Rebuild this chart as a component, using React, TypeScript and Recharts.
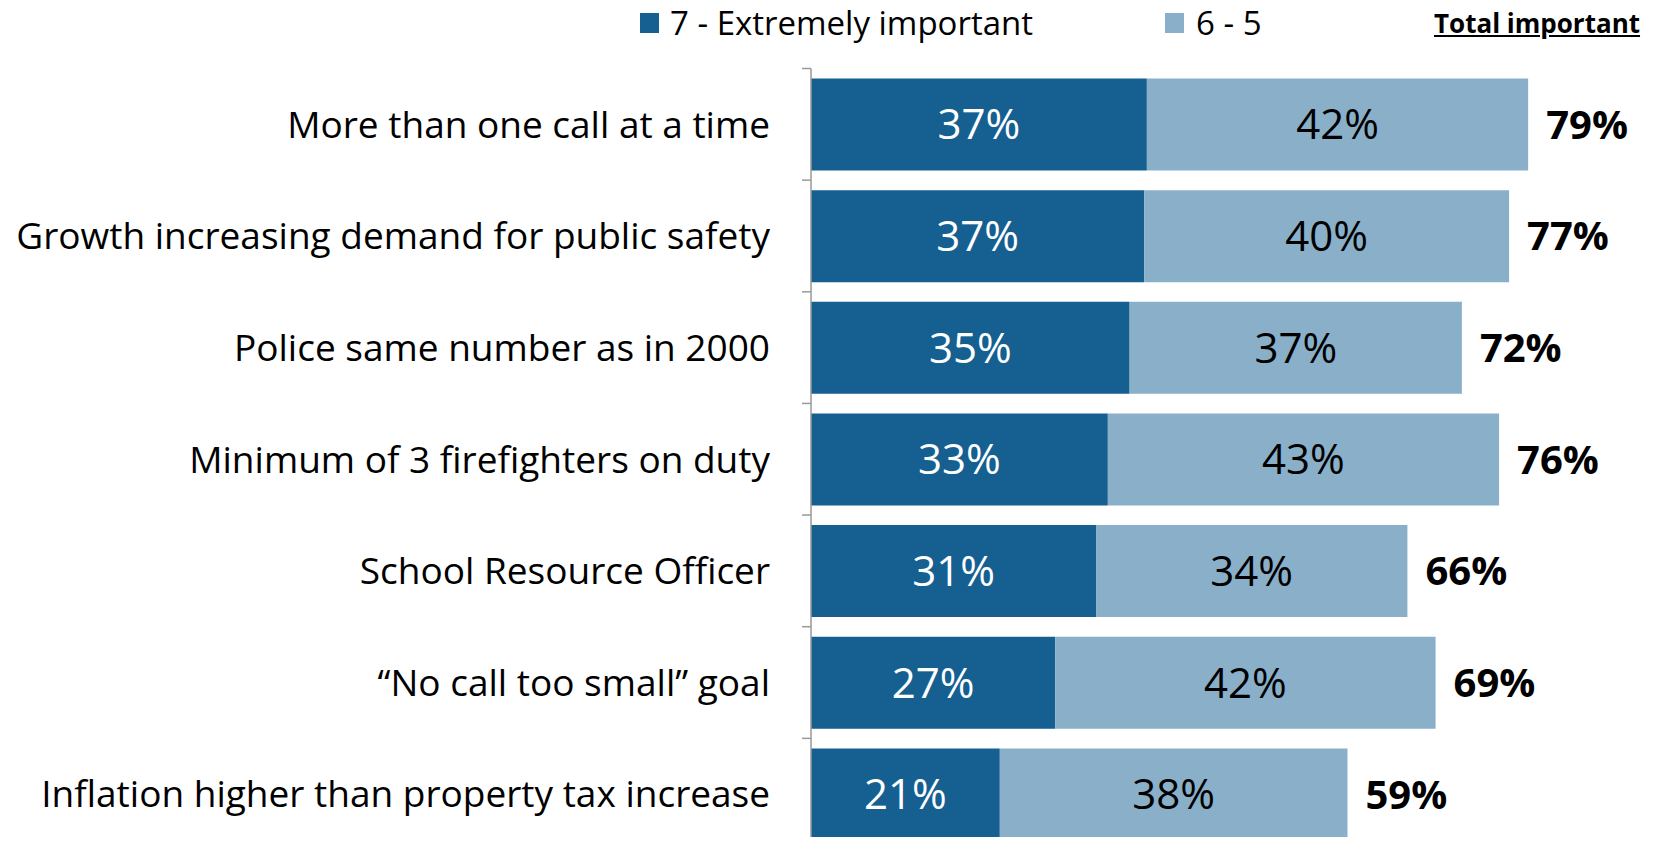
import { Bar, BarChart, LabelList, XAxis, YAxis } from 'recharts'

// categories, top to bottom
const categories = [
    'More than one call at a time',
    'Growth increasing demand for public safety',
    'Police same number as in 2000',
    'Minimum of 3 firefighters on duty',
    'School Resource Officer',
    '\u201cNo call too small\u201d goal',
    'Inflation higher than property tax increase'
]

// 7 - Extremely important
const extreme = [37, 36.7, 35.1, 32.7, 31.4, 26.9, 20.8]
// 6 - 5
const moderate = [42, 40.2, 36.6, 43.1, 34.3, 41.9, 38.3]
// total important (shown at bar ends)
const totals = [79, 77, 72, 76, 66, 69, 59]

const DARK = '#155F91'
const LIGHT = '#89AFC9'
const FONT = '"Open Sans", sans-serif'

const data = categories.map((name, i) => ({
    name,
    extreme: extreme[i],
    moderate: moderate[i],
    total: totals[i]
}))

const CHART_W = 1653
const CHART_H = 850
const TOP = 68.5
const AXIS_W = 803
const BAND = (CHART_H - TOP) / categories.length

const pct = (v: any) => `${Math.round(Number(v))}%`

const CategoryTick = (props: any) => {
    const { x, y, payload, index } = props
    const axisX = x + 41
    return (
        <g>
            <text x={x} y={y} dy="0.36em" textAnchor="end" fontSize={37} fontFamily={FONT} fill="#000">
                {payload.value}
            </text>
            <line x1={axisX - 9} x2={axisX} y1={y - BAND / 2} y2={y - BAND / 2} stroke="#999" strokeWidth={1.5} />
            {index === categories.length - 1 && (
                <line x1={axisX - 9} x2={axisX} y1={y + BAND / 2} y2={y + BAND / 2} stroke="#999" strokeWidth={1.5} />
            )}
        </g>
    )
}

const legendText = {
    position: 'absolute' as const,
    top: 6,
    fontSize: 33,
    lineHeight: '34px',
    fontFamily: FONT,
    whiteSpace: 'nowrap' as const
}

const Legend = () => (
    <>
        <div style={{ position: 'absolute', left: 640, top: 13, width: 19, height: 20, background: DARK }} />
        <div style={{ ...legendText, left: 670 }}>7 - Extremely important</div>
        <div style={{ position: 'absolute', left: 1165, top: 13, width: 19, height: 20, background: LIGHT }} />
        <div style={{ ...legendText, left: 1196 }}>6 - 5</div>
        <div
            style={{
                ...legendText,
                left: 1434,
                top: 8,
                fontSize: 26,
                lineHeight: '30px',
                fontWeight: 700,
                textDecoration: 'underline'
            }}
        >
            Total important
        </div>
    </>
)

export default function App() {
    return (
        <div style={{ position: 'relative', margin: -8, width: CHART_W, height: 845, overflow: 'hidden' }}>
            <Legend />
            <BarChart
                width={CHART_W}
                height={CHART_H}
                data={data}
                layout="vertical"
                margin={{ top: TOP, right: 25, bottom: 0, left: 8 }}
                barCategoryGap="9%"
            >
                <XAxis type="number" domain={[0, 90]} hide />
                <YAxis
                    type="category"
                    dataKey="name"
                    width={AXIS_W}
                    tickLine={false}
                    tickSize={0}
                    tickMargin={41}
                    axisLine={{ stroke: '#999', strokeWidth: 1.5 }}
                    tick={<CategoryTick />}
                    interval={0}
                />
                <Bar dataKey="extreme" stackId="a" fill={DARK} isAnimationActive={false}>
                    <LabelList dataKey="extreme" position="center" formatter={pct} fill="#fff" fontSize={42} fontFamily={FONT} />
                </Bar>
                <Bar dataKey="moderate" stackId="a" fill={LIGHT} isAnimationActive={false}>
                    <LabelList dataKey="moderate" position="center" formatter={pct} fill="#000" fontSize={42} fontFamily={FONT} />
                    <LabelList
                        dataKey="total"
                        position="right"
                        offset={18}
                        formatter={pct}
                        fill="#000"
                        fontSize={40}
                        fontWeight={700}
                        fontFamily={FONT}
                    />
                </Bar>
            </BarChart>
        </div>
    )
}
